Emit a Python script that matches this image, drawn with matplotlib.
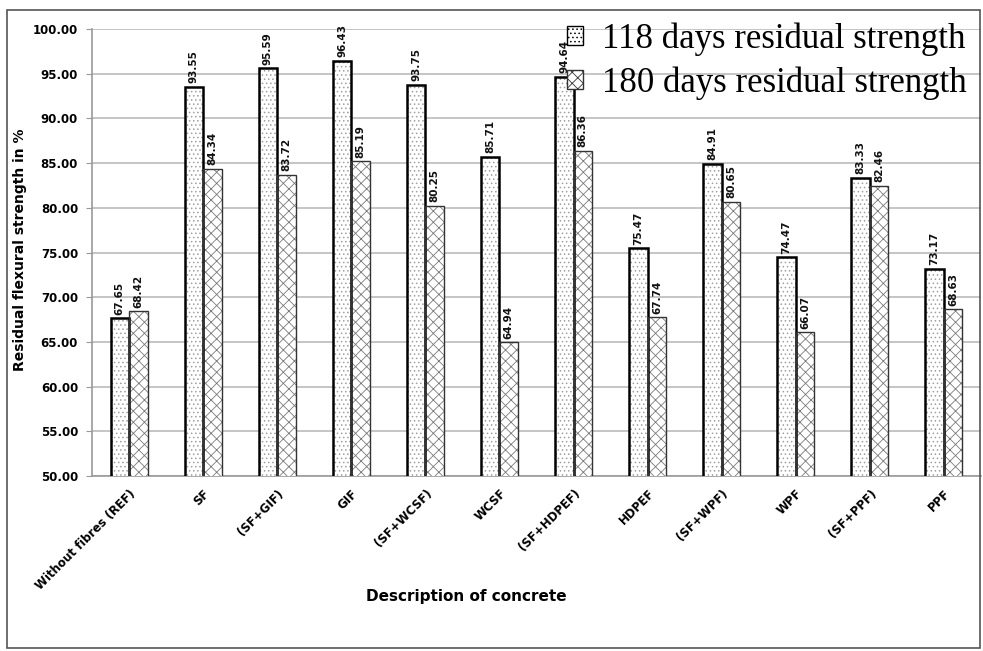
import matplotlib
matplotlib.use("Agg")
import matplotlib.pyplot as plt
import numpy as np
from matplotlib.patches import Rectangle, Patch

categories = ["Without fibres (REF)", "SF", "(SF+GIF)", "GIF", "(SF+WCSF)", "WCSF",
              "(SF+HDPEF)", "HDPEF", "(SF+WPF)", "WPF", "(SF+PPF)", "PPF"]
days118 = [67.65, 93.55, 95.59, 96.43, 93.75, 85.71, 94.64, 75.47, 84.91, 74.47, 83.33, 73.17]
days180 = [68.42, 84.34, 83.72, 85.19, 80.25, 64.94, 86.36, 67.74, 80.65, 66.07, 82.46, 68.63]
yticks = [50, 55, 60, 65, 70, 75, 80, 85, 90, 95, 100]

plt.rcParams['hatch.linewidth'] = 0.6
fig = plt.figure(figsize=(9.83, 6.51), dpi=100)
ax = fig.add_axes([92/983, 1-476/651, (981-92)/983, (476-29)/651])

x = np.arange(len(categories))
w = 0.25
# hatch layers (light)
ax.bar(x - w/2, days118, width=w, facecolor='white', edgecolor='#a0a0a0',
       linewidth=0, hatch='....', zorder=3)
ax.bar(x + w/2, days180, width=w, facecolor='white', edgecolor='#7a7a7a',
       linewidth=0, hatch='xxx', zorder=3)
# outlines
ax.bar(x - w/2, days118, width=w, fill=False, edgecolor='black', linewidth=1.8, zorder=4)
ax.bar(x + w/2, days180, width=w, fill=False, edgecolor='#333333', linewidth=1.0, zorder=4)

for xi, v in zip(x - w/2, days118):
    ax.text(xi, v + 0.4, f"{v:.2f}", rotation=90, ha='center', va='bottom', fontsize=7.5,
            fontweight='bold', color='#111111', zorder=5)
for xi, v in zip(x + w/2, days180):
    ax.text(xi, v + 0.4, f"{v:.2f}", rotation=90, ha='center', va='bottom', fontsize=7.5,
            fontweight='bold', color='#111111', zorder=5)

ax.set_ylim(50, 100)
ax.set_xlim(-0.5, len(categories) - 0.5)
ax.set_yticks(yticks)
ax.set_yticklabels([f"{t:.2f}" for t in yticks], fontsize=8.5, fontweight='bold')
ax.set_xticks(x)
ax.set_xticklabels(categories, rotation=45, ha='right', rotation_mode='anchor',
                   fontsize=8.5, fontweight='bold')
ax.tick_params(axis='x', length=0, pad=8)
ax.tick_params(axis='y', length=4, color='#999999', pad=6)
ax.grid(axis='y', color='#bbbbbb', linewidth=1.2, zorder=0)
ax.set_axisbelow(True)
for s in ('top', 'right'):
    ax.spines[s].set_visible(False)
for s in ('left', 'bottom'):
    ax.spines[s].set_color('#999999')
    ax.spines[s].set_linewidth(1.2)

fig.text(20/983, 1-250/651, "Residual flexural strength in %", rotation=90, ha='center',
         va='center', fontsize=10, fontweight='bold')
fig.text(466/983, 1-597/651, "Description of concrete", ha='center', va='center',
         fontsize=11, fontweight='bold')

h1 = Patch(facecolor='white', edgecolor='black', hatch='....', linewidth=1.0)
h2 = Patch(facecolor='white', edgecolor='#333333', hatch='xxx', linewidth=1.0)
leg = ax.legend([h1, h2], ['118 days residual strength', '180 days residual strength'],
                loc='upper left', bbox_to_anchor=(567/983, 1-22/651), bbox_transform=fig.transFigure,
                frameon=False, prop={'family': 'Liberation Serif', 'size': 25},
                handlelength=0.47, handleheight=0.47, handletextpad=0.55, labelspacing=0.31,
                borderaxespad=0, borderpad=0)
leg.set_zorder(10)

fig.patches.append(Rectangle((7/983, 3/651), 973/983, 638/651, transform=fig.transFigure,
                             fill=False, edgecolor='#555555', linewidth=1.2))

fig.savefig("out.png", dpi=100)
